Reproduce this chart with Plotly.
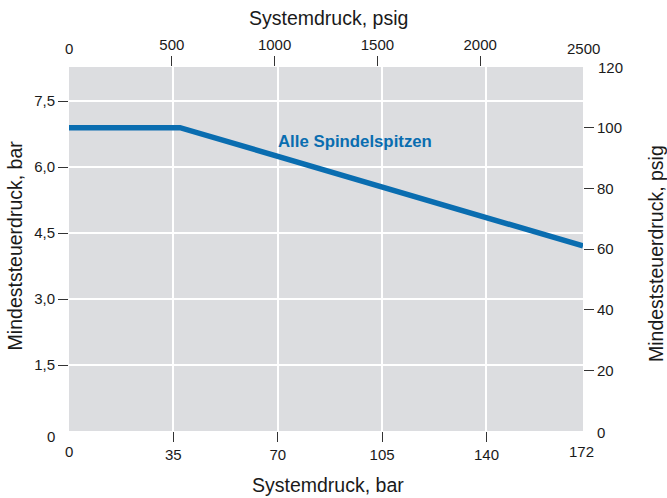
import plotly.graph_objects as go

# ---- data ----
system_psig = [0, 540, 2500]
control_psig = [100, 100, 61]

bar_ticks = [0, 35, 70, 105, 140, 172]
psig_x_ticks = [0, 500, 1000, 1500, 2000, 2500]
bar_y_ticks = [0, 1.5, 3.0, 4.5, 6.0, 7.5]
bar_y_labels = ["0", "1,5", "3,0", "4,5", "6,0", "7,5"]
psig_y_ticks = [0, 20, 40, 60, 80, 100, 120]

PSI_PER_BAR = 14.5038
X_PSI_MAX = 2500
Y_PSI_MAX = 120
X_BAR_MAX = X_PSI_MAX / PSI_PER_BAR
Y_BAR_MAX = Y_PSI_MAX / PSI_PER_BAR

FONT = "Liberation Sans, Arial, Helvetica, sans-serif"
TXT = "#1a1a1a"
BLUE = "#0a6db0"
BG = "#dcdde0"
TICKFONT = dict(family=FONT, size=15, color=TXT)

fig = go.Figure()
fig.add_trace(go.Scatter(
    x=system_psig, y=control_psig, xaxis="x2", yaxis="y2",
    mode="lines", line=dict(color=BLUE, width=5.5), showlegend=False,
    hoverinfo="skip",
))

common_tick = dict(ticks="outside", ticklen=10, tickwidth=1.2, tickcolor="#333",
                   tickfont=TICKFONT, showline=False, zeroline=False, fixedrange=True,
                   automargin=False)

fig.update_layout(
    width=667, height=498,
    margin=dict(l=69, r=84, t=67, b=67, autoexpand=False),
    paper_bgcolor="white", plot_bgcolor=BG,
    font=dict(family=FONT, color=TXT),
    xaxis=dict(range=[0, X_BAR_MAX], tickmode="array",
               tickvals=bar_ticks[1:-1], ticktext=[str(v) for v in bar_ticks[1:-1]],
               showgrid=True, gridcolor="white", gridwidth=1.8, **common_tick),
    yaxis=dict(range=[0, Y_BAR_MAX], tickmode="array",
               tickvals=bar_y_ticks[1:], ticktext=bar_y_labels[1:],
               showgrid=True, gridcolor="white", gridwidth=1.8, **common_tick),
    xaxis2=dict(range=[0, X_PSI_MAX], overlaying="x", side="top", tickmode="array",
                tickvals=psig_x_ticks[1:-1], ticktext=[str(v) for v in psig_x_ticks[1:-1]],
                showgrid=False, **common_tick),
    yaxis2=dict(range=[0, Y_PSI_MAX], overlaying="y", side="right", tickmode="array",
                tickvals=psig_y_ticks[1:-1], ticktext=[str(v) for v in psig_y_ticks[1:-1]],
                showgrid=False, **common_tick),
)

ann = []
lab = dict(showarrow=False, font=TICKFONT, xanchor="center", yanchor="middle")
# endpoint tick labels (no tick marks in reference)
ann.append(dict(text=str(bar_ticks[0]), x=bar_ticks[0], xref="x", y=0, yref="paper",
                yshift=-20, **lab))
ann.append(dict(text=str(bar_ticks[-1]), x=bar_ticks[-1], xref="x", y=0, yref="paper",
                yshift=-20, **lab))
ann.append(dict(text=str(psig_x_ticks[0]), x=psig_x_ticks[0], xref="x2", y=1, yref="paper",
                yshift=19, **lab))
ann.append(dict(text=str(psig_x_ticks[-1]), x=psig_x_ticks[-1], xref="x2", y=1, yref="paper",
                yshift=19, **lab))
ann.append(dict(text=bar_y_labels[0], x=0, xref="paper", y=bar_y_ticks[0], yref="y",
                xshift=-18, yshift=-5, **lab))
ann.append(dict(text=str(psig_y_ticks[0]), x=1, xref="paper", y=psig_y_ticks[0], yref="y2",
                xshift=18, yshift=-1, **lab))
ann.append(dict(text=str(psig_y_ticks[-1]), x=1, xref="paper", y=psig_y_ticks[-1], yref="y2",
                xshift=27, **lab))

# axis titles
tfont = dict(family=FONT, size=19.5, color=TXT)
tl = dict(showarrow=False, font=tfont, xref="paper", yref="paper",
          xanchor="center", yanchor="middle")
ann.append(dict(text="Systemdruck, psig", x=0.505, y=1.1346, **tl))
ann.append(dict(text="Systemdruck, bar", x=0.504, y=-0.148, **tl))
ann.append(dict(text="Mindeststeuerdruck, bar", x=-0.105, y=0.51, textangle=-90, **tl))
ann.append(dict(text="Mindeststeuerdruck, psig", x=1.142, y=0.489, textangle=-90, **tl))

# series label
ann.append(dict(text="<b>Alle Spindelspitzen</b>", x=1005, xref="x2", y=95.3, yref="y2",
                xanchor="left", yanchor="middle", showarrow=False,
                font=dict(family=FONT, size=16.8, color=BLUE)))

fig.update_layout(annotations=ann)
fig.write_html("out.html", config={"displayModeBar": False},
               post_script="document.body.style.margin='0';")
